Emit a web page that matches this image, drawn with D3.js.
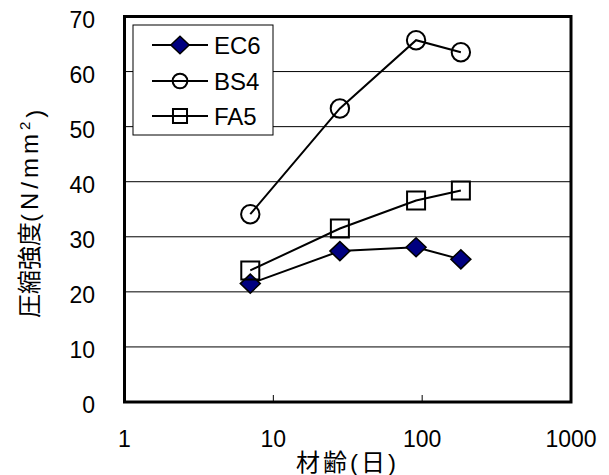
<!DOCTYPE html>
<html>
<head>
<meta charset="utf-8">
<script src="https://cdn.jsdelivr.net/npm/d3@7"></script>
<style>
  body { margin: 0; background: #fff; }
  text { font-family: "Liberation Sans", Arial, "Noto Sans CJK JP", sans-serif; fill: #000; }
</style>
</head>
<body>
<div id="chart"></div>
<script>
// Data
const ages = [7, 28, 91, 182];
const seriesNames = ['EC6', 'BS4', 'FA5'];
const ec6 = [21.5, 27.4, 28.1, 25.9];
const bs4 = [34.1, 53.3, 65.7, 63.5];
const fa5 = [23.9, 31.5, 36.6, 38.4];
const xTicks = [1, 10, 100, 1000];
const yTicks = [0, 10, 20, 30, 40, 50, 60, 70];

const width = 609;
const height = 475;
const margin = { top: 16.5, right: 38, bottom: 73, left: 124.5 };

const svg = d3.select('#chart')
  .append('svg')
  .attr('width', width)
  .attr('height', height);

const xScale = d3.scaleLog()
  .domain([1, 1000])
  .range([margin.left, width - margin.right]);

const yScale = d3.scaleLinear()
  .domain([0, 70])
  .range([height - margin.bottom, margin.top]);

// Gridlines
svg.append('g')
  .selectAll('line')
  .data(yTicks.filter(d => d > 0 && d < 70))
  .enter()
  .append('line')
  .attr('x1', xScale(1))
  .attr('x2', xScale(1000))
  .attr('y1', d => yScale(d))
  .attr('y2', d => yScale(d))
  .attr('stroke', '#000')
  .attr('stroke-width', 1);

// Inside tick marks on the x axis
svg.append('g')
  .selectAll('line')
  .data(xTicks.filter(d => d > 1 && d < 1000))
  .enter()
  .append('line')
  .attr('x1', d => xScale(d))
  .attr('x2', d => xScale(d))
  .attr('y1', yScale(0))
  .attr('y2', yScale(0) - 7)
  .attr('stroke', '#000')
  .attr('stroke-width', 1);

// Tick labels
svg.append('g')
  .selectAll('text')
  .data(yTicks)
  .enter()
  .append('text')
  .attr('x', 95)
  .attr('y', d => yScale(d) + 3)
  .attr('dy', '0.36em')
  .attr('text-anchor', 'end')
  .style('font-size', '23px')
  .text(d => d);

svg.append('g')
  .selectAll('text')
  .data(xTicks)
  .enter()
  .append('text')
  .attr('x', d => xScale(d))
  .attr('y', 447)
  .attr('text-anchor', 'middle')
  .style('font-size', '23px')
  .text(d => d);

// Axis titles
svg.append('text')
  .attr('x', 296)
  .attr('y', 471)
  .style('font-size', '24px')
  .style('letter-spacing', '3px')
  .text('材齢(日)');

const yTitle = svg.append('text')
  .attr('transform', 'translate(38,318) rotate(-90)')
  .style('font-size', '24px');
yTitle.append('tspan').text('圧縮強度');
yTitle.append('tspan').style('letter-spacing', '4px').text('(N/mm');
yTitle.append('tspan').attr('dy', '-0.55em').style('font-size', '15px').text('2');
yTitle.append('tspan').attr('dy', '0.55em').attr('dx', 4).text(')');

// Lines
const line = d3.line()
  .x((d, i) => xScale(ages[i]))
  .y(d => yScale(d));

const allSeries = [ec6, bs4, fa5];
allSeries.forEach(values => {
  svg.append('path')
    .datum(values)
    .attr('d', line)
    .attr('fill', 'none')
    .attr('stroke', '#000')
    .attr('stroke-width', 2);
});

// Markers: diamond (filled navy), circle and square (hollow)
function drawMarker(g, k, x, y, s) {
  let d;
  if (k === 0) {
    const w = 10 * s, h = 9.5 * s;
    d = `M${x},${y - h}L${x + w},${y}L${x},${y + h}L${x - w},${y}Z`;
  } else if (k === 1) {
    const r = 9.2 * s;
    d = `M${x - r},${y}A${r},${r} 0 1,0 ${x + r},${y}A${r},${r} 0 1,0 ${x - r},${y}Z`;
  } else {
    const a = 9 * s;
    d = `M${x - a},${y - a}H${x + a}V${y + a}H${x - a}Z`;
  }
  g.append('path')
    .attr('d', d)
    .attr('fill', k === 0 ? '#000080' : 'none')
    .attr('stroke', '#000')
    .attr('stroke-width', k === 0 ? 1.5 : 2);
}

allSeries.forEach((values, k) => {
  const g = svg.append('g');
  values.forEach((v, i) => drawMarker(g, k, xScale(ages[i]), yScale(v), 1));
});

// Plot border
svg.append('rect')
  .attr('x', xScale(1))
  .attr('y', yScale(70))
  .attr('width', xScale(1000) - xScale(1))
  .attr('height', yScale(0) - yScale(70))
  .attr('fill', 'none')
  .attr('stroke', '#000')
  .attr('stroke-width', 3);

// Legend
const legend = svg.append('g');
legend.append('rect')
  .attr('x', 133)
  .attr('y', 25)
  .attr('width', 140)
  .attr('height', 110)
  .attr('fill', '#fff')
  .attr('stroke', '#000')
  .attr('stroke-width', 1);

const legendY = [45, 81, 116];
const legendScale = [0.92, 0.8, 0.78];
seriesNames.forEach((name, k) => {
  legend.append('line')
    .attr('x1', 152)
    .attr('x2', 208)
    .attr('y1', legendY[k])
    .attr('y2', legendY[k])
    .attr('stroke', '#000')
    .attr('stroke-width', 2);
  drawMarker(legend, k, 180, legendY[k], legendScale[k]);
  legend.append('text')
    .attr('x', 214)
    .attr('y', legendY[k])
    .attr('dy', '0.36em')
    .style('font-size', '24px')
    .text(name);
});
</script>
</body>
</html>
